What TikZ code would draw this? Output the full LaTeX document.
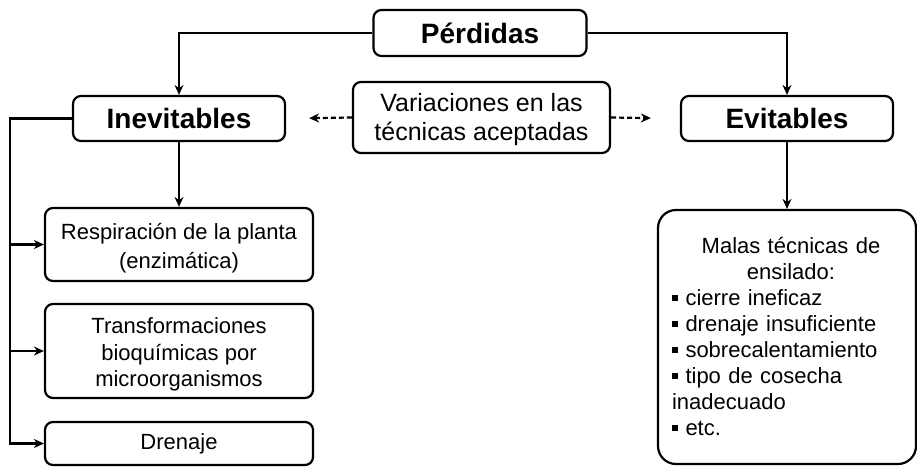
\documentclass[tikz,border=0pt]{standalone}
\usepackage{fontspec}
\setmainfont{Liberation Sans}
\usetikzlibrary{arrows.meta}
\newcommand\lowtext[2]{\raisebox{-#1}[\height][\depth]{\begin{tabular}{@{}c@{}}#2\end{tabular}}}
\begin{document}
\begin{tikzpicture}[x=1pt,y=-1pt,
  box/.style={draw=black,line width=2.2pt,rounded corners=8pt,inner sep=0pt,align=center},
  bigtxt/.style={font=\fontsize{28}{32}\selectfont\bfseries},
  smalltxt/.style={font=\fontsize{22}{27}\selectfont},
  arr/.style={line width=2.2pt,-{Stealth[length=10pt,width=9pt]}},
  dasharr/.style={arr,dash pattern=on 5pt off 3pt}]
\useasboundingbox (0,0) rectangle (917,466);
\node[box,bigtxt,minimum width=213pt,minimum height=46pt] (perd) at (480,33) {Pérdidas};
\node[box,bigtxt,minimum width=212pt,minimum height=45pt] (inev) at (179,118.5) {Inevitables};
\node[box,bigtxt,minimum width=212pt,minimum height=45pt] (evit) at (787,118.5) {Evitables};
\node[box,font=\fontsize{25}{29}\selectfont,minimum width=257pt,minimum height=71pt] (var) at (481.5,117.5)
  {\lowtext{3pt}{Variaciones en las\\técnicas aceptadas}};
\node[box,font=\fontsize{22}{29}\selectfont,minimum width=268pt,minimum height=73pt] (resp) at (179,244.5)
  {\lowtext{4pt}{Respiración de la planta\\(enzimática)}};
\node[box,font=\fontsize{22}{26.5}\selectfont,minimum width=268pt,minimum height=94pt] (trans) at (179,351)
  {\lowtext{4pt}{Transformaciones\\bioquímicas por\\microorganismos}};
\node[box,smalltxt,minimum width=268pt,minimum height=43pt] (dren) at (179,443.5) {Drenaje};
\node[draw=black,line width=2.2pt,rounded corners=18pt,minimum width=258pt,minimum height=254pt,inner sep=0pt,
  text width=230pt,font=\fontsize{22}{26}\selectfont] (malas) at (787,337)
  {\centering\hspace*{8pt}Malas técnicas de\\\hspace*{8pt}ensilado:\par
   \raggedright
   \newcommand\blt{\raisebox{0.22em}{\rule{0.28em}{0.28em}}\ }%
   \blt cierre ineficaz\\
   \blt drenaje insuficiente\\
   \blt sobrecalentamiento\\
   \blt tipo de cosecha\\
   inadecuado\\
   \blt etc.\par};
\coordinate (bus) at (10,118.5);
\draw[arr] (perd.west) -| (inev.north);
\draw[arr] (perd.east) -| (evit.north);
\draw[arr] (inev.south) -- (resp.north);
\draw[arr] (evit.south) -- (malas.north);
\draw[dasharr,shorten >=23pt] (var.west) -- (inev.east);
\draw[dasharr,shorten >=29pt] (var.east) -- (evit.west);
\draw[line width=2.2pt] (inev.west) -- (bus) -- ++(0,20);
\draw[arr] (bus) |- (resp.west);
\draw[arr] (bus) |- (trans.west);
\draw[arr] (bus) |- (dren.west);
\end{tikzpicture}
\end{document}
